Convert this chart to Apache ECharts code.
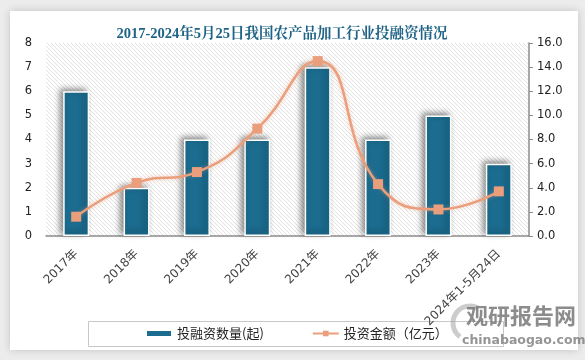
<!DOCTYPE html>
<html><head><meta charset="utf-8">
<script src="https://cdn.jsdelivr.net/npm/echarts@6/dist/echarts.min.js"></script>
<style>
html,body{margin:0;padding:0;width:585px;height:360px;background:#ececec;overflow:hidden;}
#card{position:absolute;left:10px;top:11px;width:568px;height:339px;background:#fff;box-shadow:0 0 8px rgba(0,0,0,0.18);}
#c{position:absolute;left:0;top:0;width:585px;height:360px;}
</style></head><body>
<div id="card"></div>
<div id="c"></div>
<script>
const categories = ['2017年','2018年','2019年','2020年','2021年','2022年','2023年','2024年1-5月24日'];
const dealCount = [6, 2, 4, 4, 7, 4, 5, 3];
const investAmount = [1.6, 4.4, 5.3, 8.9, 14.5, 4.3, 2.2, 3.7];
const leftTicks = {min: 0, max: 8, interval: 1};
const rightTicks = {min: 0, max: 16, interval: 2};

function hatch(){
  const cv = document.createElement('canvas');
  cv.width = 4; cv.height = 4;
  const g = cv.getContext('2d');
  g.fillStyle = '#ffffff'; g.fillRect(0,0,4,4);
  g.strokeStyle = '#e2e2e2'; g.lineWidth = 1;
  g.beginPath();
  g.moveTo(0,0); g.lineTo(4,4);
  g.moveTo(-1,3); g.lineTo(1,5);
  g.moveTo(3,-1); g.lineTo(5,1);
  g.stroke();
  return {image: cv, repeat: 'repeat'};
}

const chart = echarts.init(document.getElementById('c'), null, {renderer:'canvas'});
chart.setOption({
  backgroundColor: 'transparent',
  animation: false,
  title: {
    text: '2017-2024年5月25日我国农产品加工行业投融资情况',
    left: 277, top: 22, textAlign: 'center',
    textStyle: {color:'#1f6486', fontSize:14.5, fontWeight:'bold', fontFamily:'"Liberation Serif","Noto Serif CJK SC","Noto Sans CJK SC",serif'}
  },
  grid: {left:46, right:56, top:43, bottom:124, show:true, backgroundColor: hatch(), borderWidth:0},
  legend: {
    left: 140, top: 322, itemGap: 48, itemWidth: 26, itemHeight: 7, itemStyle:{},
    textStyle: {fontSize: 13, color:'#222', fontFamily:'"Noto Sans CJK SC",sans-serif'},
    data: [{name:'投融资数量(起)', icon:'rect'}, {name:'投资金额（亿元）'}]
  },
  xAxis: {
    type:'category', data: categories,
    axisLine:{lineStyle:{color:'#8c8c8c', width:1.5}},
    axisTick:{show:false},
    axisLabel:{rotate:45, color:'#444', fontSize:12, interval:0, margin:16, fontFamily:'"DejaVu Sans","Noto Sans CJK SC",sans-serif'}
  },
  yAxis: [
    {type:'value', min:leftTicks.min, max:leftTicks.max, interval:leftTicks.interval,
     axisLine:{show:false}, axisTick:{show:false}, splitLine:{show:false},
     axisLabel:{color:'#222', fontSize:11.5, margin:14, fontFamily:'"DejaVu Sans",sans-serif'}},
    {type:'value', min:rightTicks.min, max:rightTicks.max, interval:rightTicks.interval,
     axisLine:{show:true, lineStyle:{color:'#8c8c8c', width:1.5}},
     axisTick:{show:true, length:4, lineStyle:{color:'#8c8c8c'}}, splitLine:{show:false},
     axisLabel:{color:'#222', fontSize:11.5, margin:8, fontFamily:'"DejaVu Sans",sans-serif',
       formatter: v => v.toFixed(1)}}
  ],
  series: [
    {name:'投融资数量(起)', type:'bar', data: dealCount, barWidth: 26, yAxisIndex:0,
     itemStyle:{color:'#1b6c8f', borderColor:'#ffffff', borderWidth:1.5,
       shadowBlur:6, shadowColor:'rgba(0,0,0,0.45)', shadowOffsetX:-3, shadowOffsetY:-2}},
    {name:'投资金额（亿元）', type:'line', data: investAmount, yAxisIndex:1, smooth:0.5,
     symbol:'rect', symbolSize:10,
     lineStyle:{color:'#eb9e7b', width:2.5, shadowBlur:4, shadowColor:'rgba(235,158,123,0.5)'},
     itemStyle:{color:'#eb9e7b'}}
  ],
  graphic: [
    {type:'rect', left:86, top:319, shape:{width:415, height:25}, silent:true,
     style:{fill:'none', stroke:'#c8c8c8', lineWidth:1}, z:-1},
    {type:'text', left:466, top:305, z:10,
     style:{text:'观研报告网', fill:'rgba(120,120,120,0.85)', font:'bold 22px "Noto Sans CJK SC",sans-serif'}},
    {type:'text', left:462, top:334, z:10,
     style:{text:'chinabaogao.com', fill:'rgba(130,130,130,0.85)', font:'bold 12.5px "DejaVu Sans",sans-serif'}},
    {type:'arc', z:9, shape:{cx:470, cy:323, r:17, startAngle:2.2, endAngle:5.2},
     style:{stroke:'rgba(170,170,170,0.6)', lineWidth:5, fill:'none'}}
  ]
});
</script>
</body></html>
